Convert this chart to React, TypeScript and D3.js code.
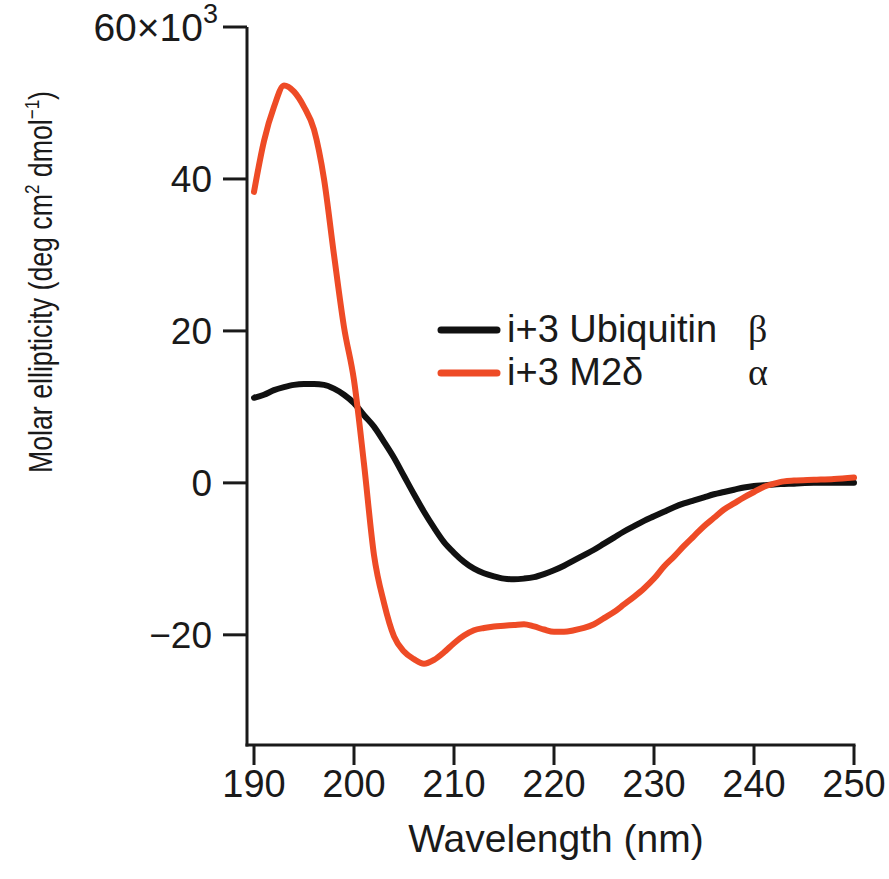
import React from "react";
import * as d3 from "d3";

const wavelengths = [190,191,192,193,194,195,196,197,198,199,200,201,202,203,204,205,206,207,208,209,210,211,212,213,214,215,216,217,218,219,220,221,222,223,224,225,226,227,228,229,230,231,232,233,234,235,236,237,238,239,240,241,242,243,244,246,248,250];
const m2Delta = [38.3,45,49.5,52.3,51.5,49.5,46.5,40,30,20.5,13.5,2.5,-9.5,-15.8,-20.2,-22.2,-23.2,-23.8,-23.3,-22.3,-21.1,-20.1,-19.4,-19.1,-18.9,-18.8,-18.7,-18.6,-18.9,-19.3,-19.6,-19.6,-19.4,-19.1,-18.6,-17.8,-17.0,-16.0,-15.0,-13.9,-12.6,-11.0,-9.7,-8.3,-7.0,-5.7,-4.6,-3.5,-2.7,-1.9,-1.2,-0.5,-0.1,0.2,0.3,0.4,0.5,0.7];
const ubiquitin = [11.2,11.6,12.2,12.6,12.9,13.0,13.0,12.9,12.4,11.6,10.5,8.9,7.4,5.4,3.3,0.9,-1.5,-3.8,-5.9,-7.8,-9.2,-10.4,-11.3,-11.9,-12.3,-12.6,-12.7,-12.6,-12.4,-12.0,-11.5,-10.9,-10.2,-9.5,-8.8,-8.0,-7.2,-6.4,-5.7,-5.0,-4.4,-3.8,-3.2,-2.7,-2.3,-1.9,-1.5,-1.2,-0.9,-0.6,-0.4,-0.3,-0.2,-0.15,-0.1,0,0,0];

const xTicks = [190, 200, 210, 220, 230, 240, 250];
const yTicks = [60, 40, 20, 0, -20];
const yTickLabels = ["60×10", "40", "20", "0", "\u221220"];

const seriesNames = ["i+3 Ubiquitin", "i+3 M2δ"];
const seriesSymbols = ["β", "α"];
const seriesColors = ["#111111", "#EE4B26"];

const FONT = "'Liberation Sans', Arial, Helvetica, sans-serif";

export default function App() {
  const W = 889, H = 879;
  const x = d3.scaleLinear().domain([190, 250]).range([254, 854]);
  const y = d3.scaleLinear().domain([-34.5, 60]).range([745, 27]);
  const axisX = 247;
  const axisY = 745;

  const line = d3
    .line<number>()
    .x((_, i) => x(wavelengths[i]))
    .y((d) => y(d))
    .curve(d3.curveMonotoneX);

  const series = [ubiquitin, m2Delta];

  return (
    <svg
      width={W}
      height={H}
      style={{ position: "absolute", left: 0, top: 0, background: "#fff" }}
      fontFamily={FONT}
    >
      {/* axes */}
      <line x1={axisX} x2={axisX} y1={y(60)} y2={axisY + 1.5} stroke="#1a1a1a" strokeWidth={3} />
      <line x1={axisX - 1.5} x2={x(250) + 1.5} y1={axisY} y2={axisY} stroke="#1a1a1a" strokeWidth={3} />

      {yTicks.map((t, i) => (
        <g key={"y" + t}>
          <line x1={axisX - 24} x2={axisX} y1={y(t)} y2={y(t)} stroke="#1a1a1a" strokeWidth={3} />
          {i === 0 ? (
            <text x={218} y={y(t) + 14} fontSize={39} textAnchor="end" fill="#1a1a1a">
              {yTickLabels[i]}
              <tspan fontSize={27} dy={-18}>3</tspan>
            </text>
          ) : (
            <text x={212} y={y(t) + 13} fontSize={37} textAnchor="end" fill="#1a1a1a">
              {yTickLabels[i]}
            </text>
          )}
        </g>
      ))}

      {xTicks.map((t) => (
        <g key={"x" + t}>
          <line x1={x(t)} x2={x(t)} y1={axisY} y2={axisY + 20} stroke="#1a1a1a" strokeWidth={3} />
          <text x={x(t)} y={797} fontSize={38} textAnchor="middle" fill="#1a1a1a">
            {t}
          </text>
        </g>
      ))}

      <text x={556} y={852} fontSize={39} textAnchor="middle" fill="#1a1a1a">
        Wavelength (nm)
      </text>

      <text
        transform="translate(52,282) rotate(-90)"
        fontSize={33}
        textAnchor="middle"
        fill="#1a1a1a"
        textLength={382}
        lengthAdjust="spacingAndGlyphs"
      >
        Molar ellipticity (deg cm
        <tspan fontSize={21} dy={-13}>2</tspan>
        <tspan dy={13}> dmol</tspan>
        <tspan fontSize={21} dy={-13}>{"\u22121"}</tspan>
        <tspan dy={13}>)</tspan>
      </text>

      {/* curves */}
      {series.map((s, i) => (
        <path
          key={"s" + i}
          d={line(s) || ""}
          fill="none"
          stroke={seriesColors[i]}
          strokeWidth={6}
          strokeLinejoin="round"
          strokeLinecap="round"
        />
      ))}

      {/* legend */}
      {seriesNames.map((n, i) => {
        const ly = 330 + i * 43;
        return (
          <g key={"l" + i}>
            <line x1={441} x2={497} y1={ly} y2={ly} stroke={seriesColors[i]} strokeWidth={7} strokeLinecap="round" />
            <text x={507} y={ly + 12} fontSize={38} fill="#1a1a1a">
              {n}
            </text>
            <text x={748} y={ly + 12} fontSize={38} fill="#1a1a1a" fontFamily="'Liberation Serif', 'DejaVu Serif', serif">
              {seriesSymbols[i]}
            </text>
          </g>
        );
      })}
    </svg>
  );
}
